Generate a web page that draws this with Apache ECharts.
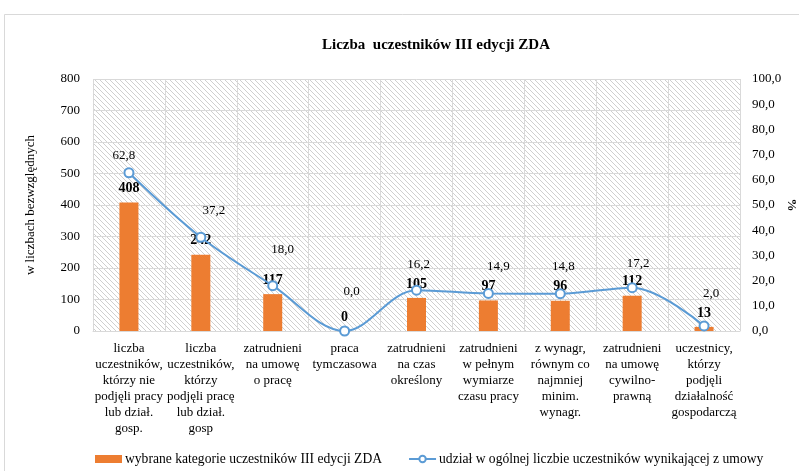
<!DOCTYPE html>
<html><head><meta charset="utf-8">
<script src="https://cdn.jsdelivr.net/npm/echarts@6/dist/echarts.min.js"></script>
<style>html,body{margin:0;padding:0;background:#fff}#c{width:799px;height:471px}</style>
</head><body><div id="c"></div>
<script>
const categories = [
  "liczba\nuczestników,\nktórzy nie\npodjęli pracy\nlub dział.\ngosp.",
  "liczba\nuczestników,\nktórzy\npodjęli pracę\nlub dział.\ngosp",
  "zatrudnieni\nna umowę\no pracę",
  "praca\ntymczasowa",
  "zatrudnieni\nna czas\nokreślony",
  "zatrudnieni\nw pełnym\nwymiarze\nczasu pracy",
  "z wynagr,\nrównym co\nnajmniej\nminim.\nwynagr.",
  "zatrudnieni\nna umowę\ncywilno-\nprawną",
  "uczestnicy,\nktórzy\npodjęli\ndziałalność\ngospodarczą"
];
const barValues = [408, 242, 117, 0, 105, 97, 96, 112, 13];
const lineValues = [62.8, 37.2, 18.0, 0.0, 16.2, 14.9, 14.8, 17.2, 2.0];
const barName = "wybrane kategorie uczestników III edycji ZDA";
const lineName = "udział w ogólnej liczbie uczestników wynikającej z umowy";
const titleText = "Liczba  uczestników III edycji ZDA";
const lineLabelOffsets = [[-5,0],[13,-10],[10,-19],[7,-22],[2,-9],[10,-10],[3,-10],[6,-7],[7,-15]];

function hatch(){
  const s = 5, c = document.createElement('canvas');
  c.width = s; c.height = s;
  const g = c.getContext('2d');
  g.fillStyle = '#ffffff'; g.fillRect(0,0,s,s);
  g.strokeStyle = '#cfcfcf'; g.lineWidth = 1;
  g.beginPath();
  g.moveTo(-1,-1); g.lineTo(s+1,s+1);
  g.moveTo(-1,s-1); g.lineTo(1,s+1);
  g.moveTo(s-1,-1); g.lineTo(s+1,1);
  g.stroke();
  return {image: c, repeat: 'repeat'};
}
const font = "Liberation Serif";
const chart = echarts.init(document.getElementById('c'));
chart.setOption({
  backgroundColor: '#fff',
  animation: false,
  textStyle: {fontFamily: font},
  graphic: [{type:'rect', shape:{x:4.5, y:14.5, width:900, height:600}, style:{fill:'none', stroke:'#d9d9d9', lineWidth:1}, silent:true, z:-1}],
  title: {text: titleText, left: 431, textAlign: 'center', top: 33,
    textStyle: {fontFamily: font, fontWeight: 'bold', fontSize: 15, color: '#000'}},
  grid: {left: 93, right: 59, top: 79, bottom: 140, show: true, backgroundColor: hatch(), borderWidth: 0,
    containLabel: false, outerBoundsMode: 'none'},
  legend: {bottom: 0, left: 90, itemGap: 26, itemWidth: 27, itemHeight: 8,
    textStyle: {fontFamily: font, fontSize: 13.6, color: '#000', padding: [0,0,0,-2]},
    data: [{name: barName, icon: 'rect'}, {name: lineName}]},
  xAxis: {type: 'category', data: categories,
    axisLine: {lineStyle: {color: '#d9d9d9'}}, axisTick: {show: false},
    splitLine: {show: true, interval: 0, lineStyle: {color: '#d9d9d9'}},
    axisLabel: {interval: 0, fontFamily: font, fontSize: 13, color: '#000', lineHeight: 16, margin: 10}},
  yAxis: [
    {type: 'value', min: 0, max: 800, interval: 100,
     name: 'w liczbach bezwzględnych', nameLocation: 'middle', nameRotate: 90, nameGap: 56,
     nameTextStyle: {fontFamily: font, fontSize: 13, color: '#000'},
     axisLine: {show: false}, axisTick: {show: false},
     splitLine: {lineStyle: {color: '#d9d9d9'}},
     axisLabel: {fontFamily: font, fontSize: 13, color: '#000', margin: 13}},
    {type: 'value', min: 0, max: 100, interval: 10,
     name: '%', nameLocation: 'middle', nameRotate: -90, nameGap: 51, nameMoveOverlap: false,
     nameTextStyle: {fontFamily: font, fontSize: 13, color: '#000', fontWeight: 'bold', verticalAlign: 'middle', align: 'center'},
     axisLine: {show: false}, axisTick: {show: false}, splitLine: {show: false},
     axisLabel: {fontFamily: font, fontSize: 13, color: '#000', margin: 12,
       formatter: v => v.toFixed(1).replace('.', ',')}}
  ],
  series: [
    {name: barName, type: 'bar', data: barValues, barWidth: 19, yAxisIndex: 0,
     itemStyle: {color: '#ed7d31'},
     label: {show: true, position: 'top', distance: 7, fontFamily: font, fontSize: 14, fontWeight: 'bold', color: '#000'}},
    {name: lineName, type: 'line', yAxisIndex: 1, smooth: 0.35, z: 3,
     data: lineValues.map((v, i) => ({value: v, label: {offset: lineLabelOffsets[i]}})),
     symbol: 'circle', symbolSize: 9,
     lineStyle: {color: '#5b9bd5', width: 2},
     itemStyle: {color: '#fff', borderColor: '#5b9bd5', borderWidth: 2},
     label: {show: true, position: 'top', fontFamily: font, fontSize: 13, color: '#000',
       formatter: p => p.value.toFixed(1).replace('.', ',')}}
  ]
});
</script></body></html>
